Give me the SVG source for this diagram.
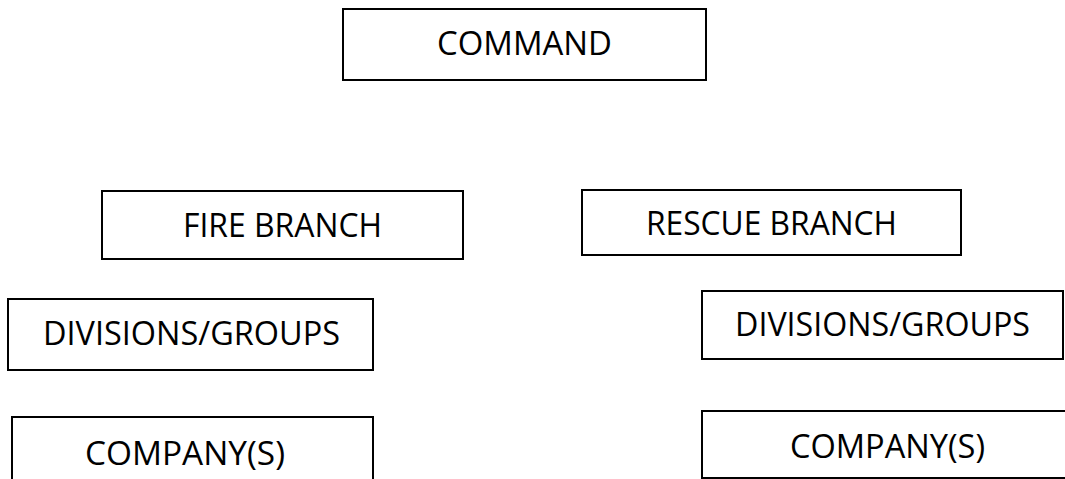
<svg xmlns="http://www.w3.org/2000/svg" width="1065" height="479" viewBox="0 0 1065 479">
<style>
.box{fill:#fff;stroke:#000;stroke-width:2}
.lbl{font-family:"Open Sans","Liberation Sans",sans-serif;font-size:32px;fill:#000}
</style>
<rect x="0" y="0" width="1065" height="479" fill="#fff"/>
<g id="connectors"/>
<g id="command"><rect class="box" x="343" y="9" width="363" height="71"/><text class="lbl" x="437" y="55" textLength="175" lengthAdjust="spacingAndGlyphs">COMMAND</text></g>
<g id="fire-branch"><rect class="box" x="102" y="191" width="361" height="68"/><text class="lbl" x="183" y="237" textLength="199" lengthAdjust="spacingAndGlyphs">FIRE BRANCH</text></g>
<g id="rescue-branch"><rect class="box" x="582" y="190" width="379" height="65"/><text class="lbl" x="646" y="235" textLength="251" lengthAdjust="spacingAndGlyphs">RESCUE BRANCH</text></g>
<g id="fire-divisions"><rect class="box" x="8" y="299" width="365" height="71"/><text class="lbl" x="43" y="345" textLength="297" lengthAdjust="spacingAndGlyphs">DIVISIONS/GROUPS</text></g>
<g id="rescue-divisions"><rect class="box" x="702" y="291" width="361" height="68"/><text class="lbl" x="735" y="336" textLength="295" lengthAdjust="spacingAndGlyphs">DIVISIONS/GROUPS</text></g>
<g id="fire-company"><rect class="box" x="12" y="417" width="361" height="80"/><text class="lbl" x="85" y="465" textLength="200" lengthAdjust="spacingAndGlyphs">COMPANY(S)</text></g>
<g id="rescue-company"><rect class="box" x="702" y="411" width="380" height="67"/><text class="lbl" x="790" y="458" textLength="195" lengthAdjust="spacingAndGlyphs">COMPANY(S)</text></g>
</svg>
